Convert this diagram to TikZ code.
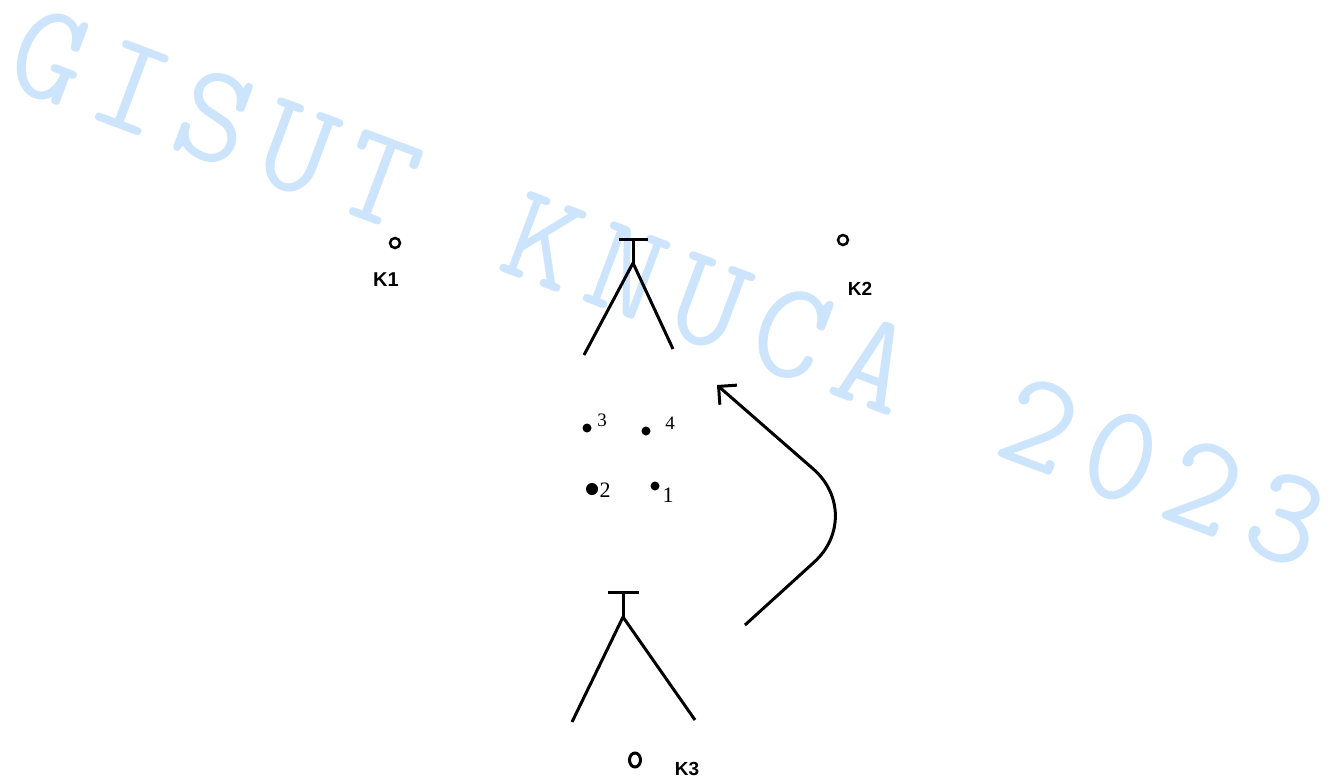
\documentclass[tikz,border=0pt]{standalone}
\usepackage{fontspec}
\setmainfont{Liberation Serif}
\setsansfont{Liberation Sans}
\usetikzlibrary{arrows.meta, shapes.geometric, positioning}
\definecolor{wmblue}{RGB}{204,228,252}

\begin{document}
\begin{tikzpicture}[
    x = 1pt, y = -1pt,
    wm/.style    = {text=wmblue, font=\ttfamily\fontsize{140}{140}\selectfont,
                    rotate=-20.5, anchor=base, inner sep=0pt},
    stand/.style = {line width=3pt, line join=round},
    hole/.style  = {draw, circle, line width=2.5pt, inner sep=0pt, minimum size=10pt},
    spot/.style  = {fill, circle, inner sep=0pt, minimum size=#1},
    klbl/.style  = {font=\sffamily\bfseries\fontsize{#1}{#1}\selectfont, inner sep=0pt},
    nlbl/.style  = {font=\fontsize{#1}{#1}\selectfont, inner sep=0pt},
    arr/.style   = {-{Straight Barb[length=13pt, width=26pt]}, line width=3pt,
                    rounded corners=70pt},
]
\useasboundingbox (0,0) rectangle (1339,782);

% Watermark
\foreach \ch/\i in {G/0,I/1,S/2,U/3,T/4,K/6,N/7,U/8,C/9,A/10,2/12,0/13,2/14,3/15}
  \node[wm] (wm\i) at ({35+82.4*\i},{97+30.8*\i}) {\ch};

% Points K1, K2, K3
\node[hole] (k1) at (395,243) {};
\node[klbl=20] (k1l) at (386,280) {K1};
\node[hole] (k2) at (843,240) {};
\node[klbl=19] (k2l) at (860,289) {K2};
\node[ellipse, draw, line width=3pt, inner sep=0pt,
      minimum width=11pt, minimum height=14pt] (k3) at (635,760) {};
\node[klbl=19] (k3l) at (687,769) {K3};

% Upper stand
\coordinate (topT) at (633,239);
\coordinate (topA) at (633,263);
\draw[stand] ([xshift=-14pt]topT) -- ([xshift=15pt]topT);
\draw[stand] (topT) -- (topA);
\draw[stand] (584,355) -- (topA) -- (673,349);

% Lower stand
\coordinate (botT) at (623,592);
\coordinate (botA) at (623,617);
\draw[stand] ([xshift=-15pt]botT) -- ([xshift=16pt]botT);
\draw[stand] (botT) -- (botA);
\draw[stand] (572,722) -- (botA) -- (695,720);

% Numbered points
\node[spot=9pt]  (p3) at (587,428) {};
\node[nlbl=19]   (p3l) at (602,420) {3};
\node[spot=9pt]  (p4) at (646,431) {};
\node[nlbl=19]   (p4l) at (670,423) {4};
\node[spot=12pt] (p2) at (592,489) {};
\node[nlbl=22]   (p2l) at (605,490) {2};
\node[spot=9pt]  (p1) at (655,486) {};
\node[nlbl=22]   (p1l) at (668,495) {1};

% Transfer arrow
\coordinate (cs) at (745,625);
\coordinate (cb) at (866,515);
\coordinate (ce) at (717,385);
\draw[arr] (cs) -- (cb) -- (ce);

\end{tikzpicture}
\end{document}
